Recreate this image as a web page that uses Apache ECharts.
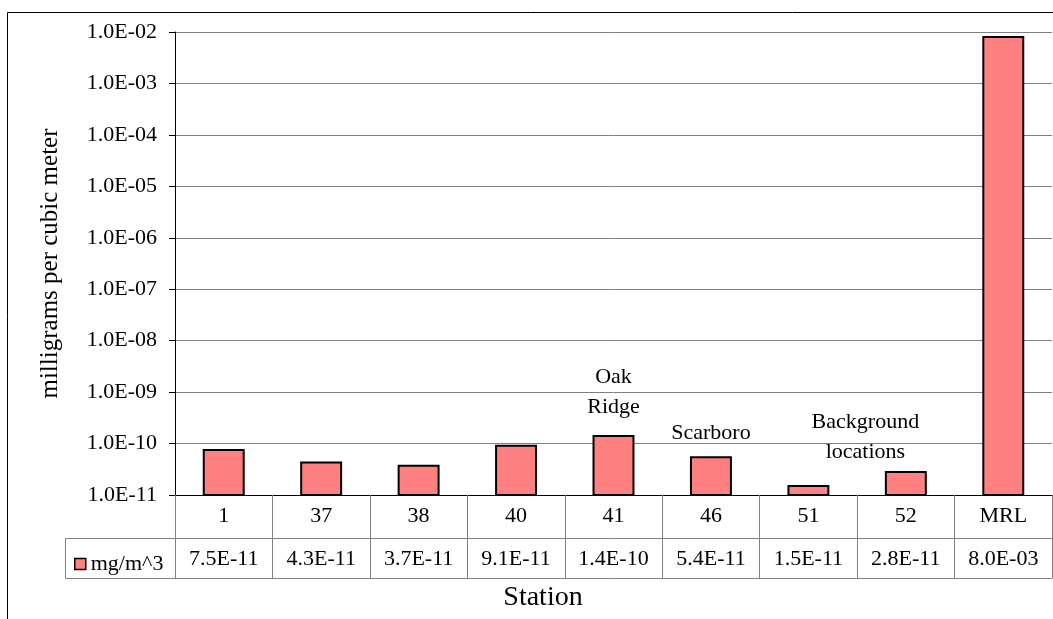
<!DOCTYPE html>
<html>
<head>
<meta charset="utf-8">
<script src="https://cdn.jsdelivr.net/npm/echarts@6/dist/echarts.min.js"></script>
<style>
  html, body { margin: 0; padding: 0; background: #fff; }
  #chart { width: 1053px; height: 619px; }
</style>
</head>
<body>
<div id="chart"></div>
<script>
const stations = ['1', '37', '38', '40', '41', '46', '51', '52', 'MRL'];
const values = [7.5e-11, 4.3e-11, 3.7e-11, 9.1e-11, 1.4e-10, 5.4e-11, 1.5e-11, 2.8e-11, 8.0e-3];
const seriesName = 'mg/m^3';
const yTitle = 'milligrams per cubic meter';
const xTitle = 'Station';
const yMin = 1e-11;
const yMax = 1e-2;
const annotations = [
  { station: '41', value: 1.0e-9, text: 'Oak\nRidge', shift: 0 },
  { station: '46', value: 1.6e-10, text: 'Scarboro', shift: 0 },
  { station: '51', value: 1.3e-10, text: 'Background\nlocations', shift: 57 }
];

function fmt(v) {
  const parts = Number(v).toExponential(1).split('e');
  const n = parseInt(parts[1], 10);
  return parts[0] + 'E' + (n < 0 ? '-' : '+') + String(Math.abs(n)).padStart(2, '0');
}

const FONT = '"Liberation Serif", "Times New Roman", serif';
const FS = 22;
const GREY = '#808080';
const BAR_FILL = '#FF8080';

const chart = echarts.init(document.getElementById('chart'), null, { renderer: 'canvas' });

chart.setOption({
  animation: false,
  backgroundColor: '#fff',
  textStyle: { fontFamily: FONT, color: '#000' },
  grid: { left: 175, right: 1, top: 32, bottom: 124, containLabel: false },
  legend: {
    left: 69, top: 548,
    itemWidth: 11, itemHeight: 11,
    icon: 'rect',
    textStyle: { fontFamily: FONT, fontSize: FS, color: '#000' },
    itemGap: 5,
    data: [{ name: seriesName, itemStyle: { color: BAR_FILL, borderColor: '#000', borderWidth: 1.5 } }]
  },
  xAxis: [
    {
      type: 'category',
      data: stations,
      position: 'bottom',
      axisLine: { show: true, lineStyle: { color: '#000', width: 1 } },
      axisTick: { show: true, length: 83, lineStyle: { color: GREY, width: 1 } },
      axisLabel: { margin: 10, fontFamily: FONT, fontSize: FS, color: '#000', interval: 0 },
      splitLine: { show: false }
    },
    {
      type: 'category',
      data: stations,
      position: 'bottom',
      offset: 43,
      axisLine: { show: true, lineStyle: { color: GREY, width: 1 } },
      axisTick: { show: false },
      axisLabel: {
        margin: 10, fontFamily: FONT, fontSize: FS, color: '#000', interval: 0,
        formatter: function (v, i) { return fmt(values[i]); }
      }
    },
    {
      type: 'category',
      data: stations,
      position: 'bottom',
      offset: 83,
      axisLine: { show: true, lineStyle: { color: GREY, width: 1 } },
      axisTick: { show: false },
      axisLabel: { show: false }
    }
  ],
  yAxis: {
    type: 'log',
    logBase: 10,
    min: yMin,
    max: yMax,
    name: yTitle,
    nameLocation: 'middle',
    nameRotate: 90,
    nameGap: 112,
    nameTextStyle: { fontFamily: FONT, fontSize: 25, color: '#000' },
    axisLine: { show: true, lineStyle: { color: '#000', width: 1 } },
    axisTick: { show: true, inside: false, length: 6, lineStyle: { color: '#000' } },
    axisLabel: { margin: 18, fontFamily: FONT, fontSize: FS, color: '#000', formatter: fmt },
    splitLine: { show: true, lineStyle: { color: GREY, width: 1 } }
  },
  series: [
    {
      name: seriesName,
      type: 'custom',
      xAxisIndex: 0,
      data: values.map(function (v, i) { return [i, v]; }),
      renderItem: function (params, api) {
        const top = api.coord([api.value(0), api.value(1)]);
        const base = api.coord([api.value(0), yMin]);
        const band = api.size([1, 0])[0];
        const w = band * 0.41;
        return {
          type: 'rect',
          shape: { x: top[0] - w / 2, y: top[1], width: w, height: base[1] - top[1] },
          style: { fill: BAR_FILL, stroke: '#000', lineWidth: 2 }
        };
      },
      itemStyle: { color: BAR_FILL, borderColor: '#000', borderWidth: 1.5 },
      z: 3
    },
    {
      name: 'annotations',
      type: 'scatter',
      symbolSize: 1,
      silent: true,
      itemStyle: { color: 'rgba(0,0,0,0)', opacity: 1 },
      data: annotations.map(function (a) {
        return {
          value: [a.station, a.value],
          text: a.text,
          label: { offset: [a.shift, 0] }
        };
      }),
      label: {
        show: true,
        position: 'inside',
        fontFamily: FONT, fontSize: FS, color: '#000', lineHeight: 30,
        opacity: 1, textBorderWidth: 0,
        align: 'center', verticalAlign: 'middle',
        formatter: function (p) { return p.data.text; }
      },
      z: 4
    }
  ],
  graphic: [
    {
      type: 'rect',
      shape: { x: 7.5, y: 12.5, width: 1100, height: 700 },
      style: { fill: null, stroke: '#000', lineWidth: 1 },
      silent: true, z: 100
    },
    {
      type: 'rect',
      shape: { x: 65.5, y: 538.5, width: 110, height: 40 },
      style: { fill: null, stroke: GREY, lineWidth: 1 },
      silent: true, z: 50
    },
    {
      type: 'text',
      x: 543, y: 598,
      style: { text: xTitle, font: '28px ' + FONT, fill: '#000', textAlign: 'center', textVerticalAlign: 'middle' },
      silent: true
    }
  ]
});
</script>
</body>
</html>
